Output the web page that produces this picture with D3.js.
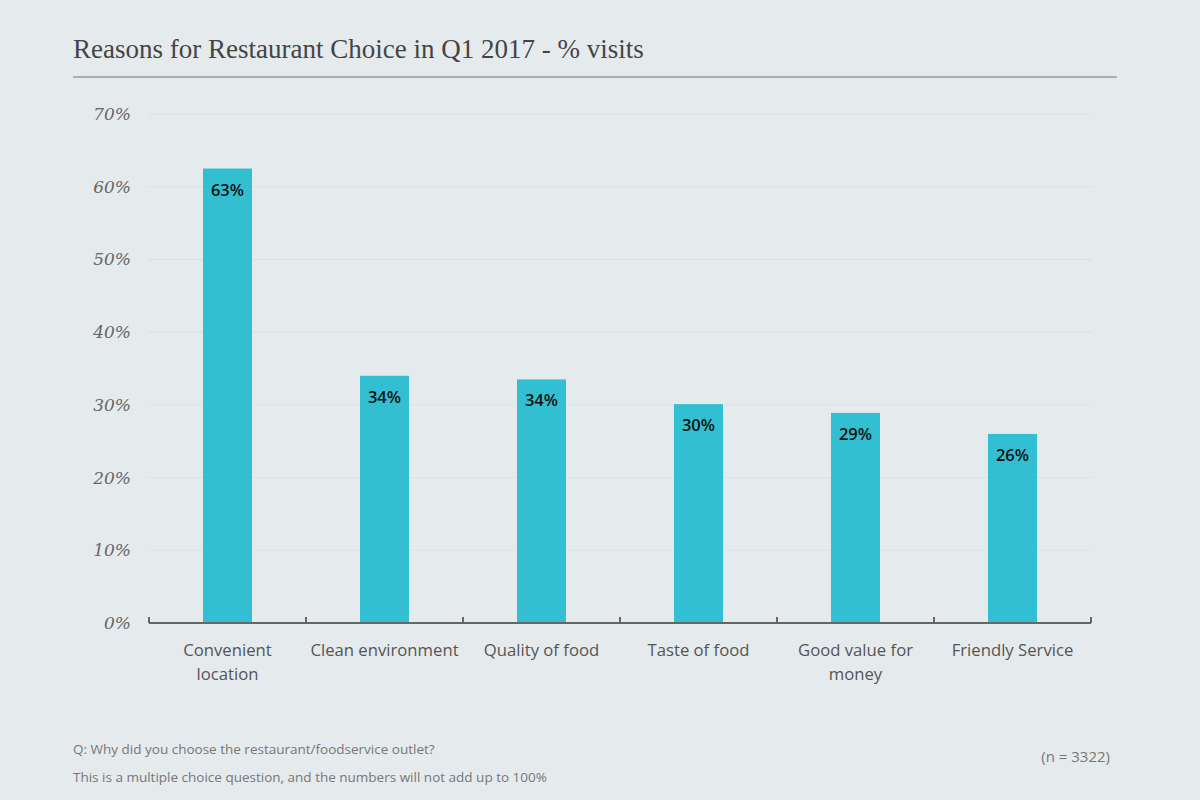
<!DOCTYPE html>
<html><head><meta charset="utf-8">
<script src="https://cdn.jsdelivr.net/npm/d3@7"></script>
<style>
html,body{margin:0;padding:0;background:#e5eaed;}
svg{display:block;}
</style></head>
<body>
<script>
const categories = [["Convenient","location"],["Clean environment"],["Quality of food"],["Taste of food"],["Good value for","money"],["Friendly Service"]];
const values = [62.5, 34.0, 33.5, 30.1, 28.9, 26.0];
const valueLabels = ["63%","34%","34%","30%","29%","26%"];
const yTicks = [0,10,20,30,40,50,60,70];

(function(){
const W = 1200, H = 800;
const svg = d3.select("body").append("svg").attr("width", W).attr("height", H);
svg.append("rect").attr("width", W).attr("height", H).attr("fill", "#e5eaed");

svg.append("text").attr("x", 73).attr("y", 58)
  .attr("font-family", "'Liberation Serif', Georgia, serif").attr("font-size", 27)
  .attr("fill", "#444").text("Reasons for Restaurant Choice in Q1 2017 - % visits");
svg.append("line").attr("x1", 73).attr("x2", 1117).attr("y1", 77).attr("y2", 77)
  .attr("stroke", "#aaaeb1").attr("stroke-width", 2);

const mLeft = 149, mRight = 1091, mTop = 114, mBottom = 623;
const x = d3.scaleBand().domain(d3.range(categories.length)).range([mLeft, mRight]).paddingInner(0).paddingOuter(0);
const y = d3.scaleLinear().domain([0, 70]).range([mBottom, mTop]);

svg.append("g").selectAll("line").data(yTicks.filter(d => d > 0)).join("line")
  .attr("x1", mLeft).attr("x2", mRight)
  .attr("y1", d => y(d)).attr("y2", d => y(d))
  .attr("stroke", "#d3d8db").attr("stroke-dasharray", "2,2").attr("stroke-width", 1);

svg.append("g").selectAll("text").data(yTicks).join("text")
  .attr("x", 131).attr("y", d => y(d) + 6)
  .attr("text-anchor", "end")
  .attr("font-family", "'DejaVu Serif', Georgia, serif").attr("font-style", "italic")
  .attr("font-size", 17).attr("fill", "#666").text(d => d + "%");

const bw = 49;
svg.append("g").selectAll("rect").data(values).join("rect")
  .attr("x", (d, i) => x(i) + x.bandwidth() / 2 - bw / 2)
  .attr("width", bw)
  .attr("y", d => y(d)).attr("height", d => mBottom - y(d))
  .attr("fill", "#31bfd1");

svg.append("g").selectAll("text").data(values).join("text")
  .attr("x", (d, i) => x(i) + x.bandwidth() / 2)
  .attr("y", d => y(d) + 27)
  .attr("text-anchor", "middle")
  .attr("font-family", "'Open Sans', 'Noto Sans', sans-serif").attr("font-weight", 600)
  .attr("font-size", 16.5).attr("fill", "#111").text((d, i) => valueLabels[i]);

const ax = svg.append("g");
ax.append("line").attr("x1", mLeft).attr("x2", mRight).attr("y1", mBottom).attr("y2", mBottom)
  .attr("stroke", "#666").attr("stroke-width", 2);
const tickPos = d3.range(categories.length).map(i => x(i)).concat([mRight]);
ax.selectAll("line.t").data(tickPos).join("line").attr("class", "t")
  .attr("x1", d => d).attr("x2", d => d).attr("y1", mBottom - 6).attr("y2", mBottom)
  .attr("stroke", "#666").attr("stroke-width", 2);

const xl = svg.append("g").selectAll("text").data(categories).join("text")
  .attr("x", (d, i) => x(i) + x.bandwidth() / 2)
  .attr("y", 656)
  .attr("text-anchor", "middle")
  .attr("font-family", "'Open Sans', 'Noto Sans', sans-serif")
  .attr("font-size", 16.7).attr("fill", "#555");
xl.each(function(d, i) {
  const t = d3.select(this);
  d.forEach((line, j) => {
    t.append("tspan").attr("x", x(i) + x.bandwidth() / 2).attr("dy", j === 0 ? 0 : 24).text(line);
  });
});

const foot = svg.append("g").attr("font-family", "'Open Sans', 'Noto Sans', sans-serif").attr("font-size", 13.5).attr("fill", "#777");
foot.append("text").attr("x", 73).attr("y", 754).text("Q: Why did you choose the restaurant/foodservice outlet?");
foot.append("text").attr("x", 73).attr("y", 782).text("This is a multiple choice question, and the numbers will not add up to 100%");
foot.append("text").attr("x", 1110).attr("y", 762).attr("text-anchor", "end").attr("font-size", 15).text("(n = 3322)");
})();
</script>
</body></html>
